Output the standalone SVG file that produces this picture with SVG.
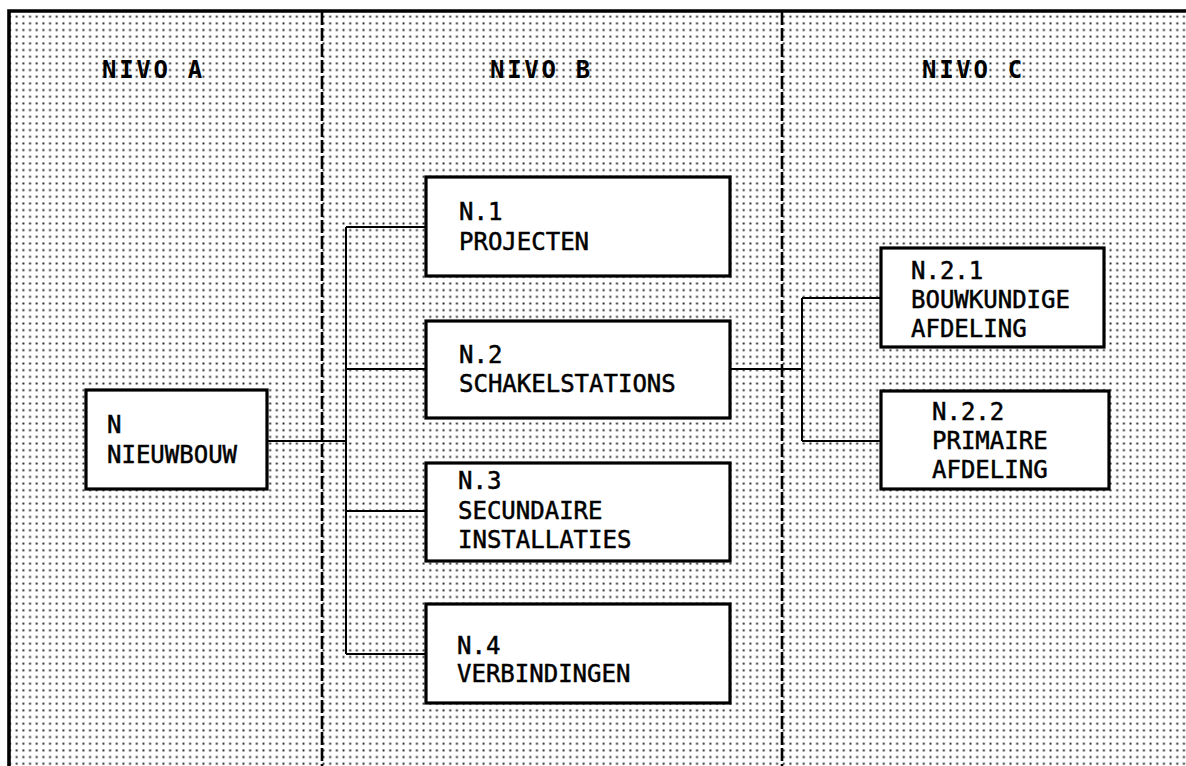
<svg xmlns="http://www.w3.org/2000/svg" width="1186" height="766" viewBox="0 0 1186 766">
<defs>
<pattern id="dots" x="0" y="0" width="6.67" height="6.67" patternUnits="userSpaceOnUse">
<rect x="2.4" y="2.4" width="1.9" height="1.9" fill="#1a1a1a"/>
</pattern>
</defs>
<style>
.box{fill:#fff;stroke:#000;stroke-width:3.2}
.t{font-family:"DejaVu Sans Mono","Liberation Mono",monospace;font-size:24px;fill:#000;stroke:#000;stroke-width:0.5}
.h{font-family:"DejaVu Sans Mono","Liberation Mono",monospace;font-size:24px;font-weight:bold;fill:#000;letter-spacing:2.7px}
.div{stroke:#000;stroke-width:2.6;stroke-dasharray:13 3;fill:none}
.c{stroke:#000;stroke-width:2;fill:none}
</style>
<rect x="0" y="0" width="1186" height="766" fill="#fff"/>
<rect x="10" y="12" width="1176" height="754" fill="url(#dots)"/>
<path d="M9 766 V11 H1186" fill="none" stroke="#000" stroke-width="3.6"/>
<g id="dividers">
<line class="div" x1="322" y1="12" x2="322" y2="766"/>
<line class="div" x1="782" y1="12" x2="782" y2="766"/>
</g>
<g id="headers">
<text class="h" x="102" y="78">NIVO A</text>
<text class="h" x="490" y="78">NIVO B</text>
<text class="h" x="922" y="78">NIVO C</text>
</g>
<g id="connectors">
<path class="c" d="M267 441 H346"/>
<path class="c" d="M346 227 V654"/>
<path class="c" d="M346 227 H426 M346 369 H426 M346 511 H426 M346 654 H426"/>
<path class="c" d="M730 369 H802"/>
<path class="c" d="M802 298 V441 M802 298 H881 M802 441 H881"/>
</g>
<g id="node-N">
<rect class="box" x="86" y="390" width="181" height="99"/>
<text class="t" x="107" y="433">N</text>
<text class="t" x="107" y="463">NIEUWBOUW</text>
</g>
<g id="node-N1">
<rect class="box" x="426" y="177" width="304" height="99"/>
<text class="t" x="459" y="220">N.1</text>
<text class="t" x="459" y="250">PROJECTEN</text>
</g>
<g id="node-N2">
<rect class="box" x="426" y="321" width="304" height="97"/>
<text class="t" x="459" y="363">N.2</text>
<text class="t" x="459" y="392">SCHAKELSTATIONS</text>
</g>
<g id="node-N3">
<rect class="box" x="426" y="463" width="304" height="98"/>
<text class="t" x="458" y="489">N.3</text>
<text class="t" x="458" y="519">SECUNDAIRE</text>
<text class="t" x="458" y="548">INSTALLATIES</text>
</g>
<g id="node-N4">
<rect class="box" x="426" y="604" width="304" height="99"/>
<text class="t" x="457" y="654">N.4</text>
<text class="t" x="457" y="682">VERBINDINGEN</text>
</g>
<g id="node-N21">
<rect class="box" x="881" y="248" width="223" height="99"/>
<text class="t" x="911" y="279">N.2.1</text>
<text class="t" x="911" y="308">BOUWKUNDIGE</text>
<text class="t" x="911" y="337">AFDELING</text>
</g>
<g id="node-N22">
<rect class="box" x="881" y="391" width="228" height="98"/>
<text class="t" x="932" y="420">N.2.2</text>
<text class="t" x="932" y="449">PRIMAIRE</text>
<text class="t" x="932" y="478">AFDELING</text>
</g>
</svg>
